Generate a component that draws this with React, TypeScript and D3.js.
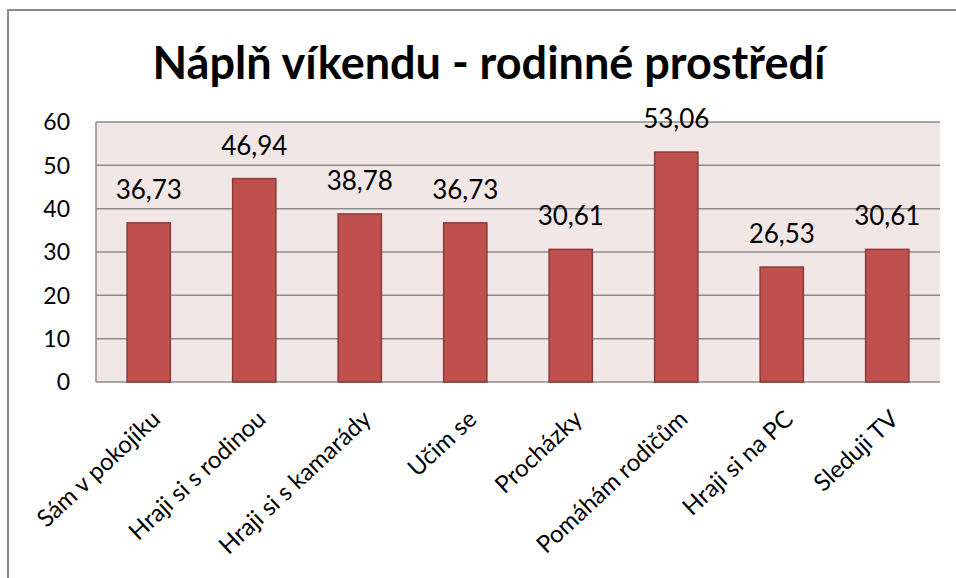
import React from "react";
import * as d3 from "d3";

const categories = [
  "Sám v pokojíku",
  "Hraji si s rodinou",
  "Hraji si s kamarády",
  "Učim se",
  "Procházky",
  "Pomáhám rodičům",
  "Hraji si na PC",
  "Sleduji TV",
];
const values = [36.73, 46.94, 38.78, 36.73, 30.61, 53.06, 26.53, 30.61];
const yTicks = [0, 10, 20, 30, 40, 50, 60];
const title = "Náplň víkendu - rodinné prostředí";

const W = 956;
const H = 578;
const plot = { left: 96, right: 940, top: 122, bottom: 382 };
const FONT = "Lato, 'Open Sans', sans-serif";

export default function App() {
  const x = d3
    .scaleBand<string>()
    .domain(categories)
    .range([plot.left, plot.right])
    .paddingInner(0.59)
    .paddingOuter(0.295);
  const y = d3.scaleLinear().domain([0, 60]).range([plot.bottom, plot.top]);
  const fmt = (v: number) => v.toFixed(2).replace(".", ",");

  return (
    <svg
      width={W}
      height={H}
      style={{ position: "absolute", left: 0, top: 0, background: "#fff" }}
      fontFamily={FONT}
    >
      <rect x={8} y={10} width={W + 20} height={H + 20} fill="#fff" stroke="#8a8a8a" strokeWidth={2} />
      <text x={489} y={79} textAnchor="middle" fontSize={45} fontWeight={700} fill="#000">
        {title}
      </text>
      <rect
        x={plot.left}
        y={plot.top}
        width={plot.right - plot.left}
        height={plot.bottom - plot.top}
        fill="#F2E7E7"
      />
      {yTicks.map((t) => (
        <g key={t}>
          <line x1={plot.left} x2={plot.right} y1={y(t)} y2={y(t)} stroke="#8c8c8c" strokeWidth={1.5} />
          <text x={70} y={y(t)} dy="0.36em" textAnchor="end" fontSize={23} fill="#000">
            {t}
          </text>
        </g>
      ))}
      <line x1={plot.left} x2={plot.left} y1={plot.top} y2={plot.bottom} stroke="#8c8c8c" strokeWidth={1.5} />
      {categories.map((c, i) => {
        const bx = x(c)!;
        const by = y(values[i]);
        return (
          <g key={c}>
            <rect
              x={bx}
              y={by}
              width={x.bandwidth()}
              height={plot.bottom - by}
              fill="#C0504D"
              stroke="#8C3A38"
              strokeWidth={1.5}
            />
            <text x={bx + x.bandwidth() / 2} y={by - 24} textAnchor="middle" fontSize={26} fill="#000">
              {fmt(values[i])}
            </text>
          </g>
        );
      })}
      {categories.map((c) => {
        const cx = x(c)! + x.bandwidth() / 2;
        return (
          <text
            key={c}
            transform={`translate(${cx + 13},${421}) rotate(-43)`}
            textAnchor="end"
            fontSize={24}
            fill="#000"
          >
            {c}
          </text>
        );
      })}
    </svg>
  );
}
